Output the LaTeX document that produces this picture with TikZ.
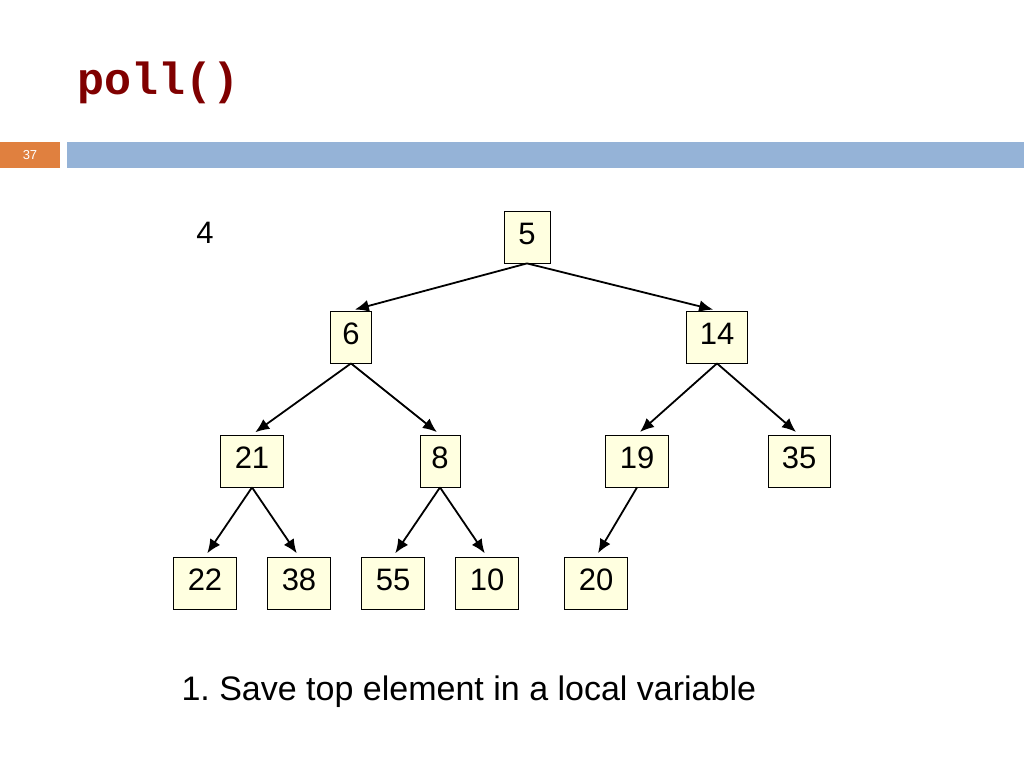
\documentclass[tikz,border=0pt]{standalone}
\usepackage{fontspec}
\setmainfont{Liberation Sans}
\newfontfamily\codefont{Liberation Mono}
\usetikzlibrary{arrows.meta}
\definecolor{barblue}{HTML}{95B3D7}
\definecolor{barorange}{HTML}{E0803F}
\definecolor{boxfill}{HTML}{FFFFE0}
\begin{document}
\begin{tikzpicture}[x=1pt,y=-1pt,
  hn/.style={draw=black,line width=0.8pt,fill=boxfill,minimum height=52pt,text height=31pt,text depth=17pt,inner sep=0pt,font=\fontsize{31}{32}\selectfont},
  ed/.style={line width=1.8pt,-{Latex[length=14pt,width=12pt]},shorten >=4pt}]
\useasboundingbox (0,0) rectangle (1024,768);
\node[anchor=west,text=red!50!black,font=\codefont\bfseries\fontsize{45}{46}\selectfont] (title) at (74,83) {poll()};
\fill[barorange] (0,142) rectangle (60,168);
\node[text=white,font=\fontsize{13}{14}\selectfont] (pg) at (30,155) {37};
\fill[barblue] (67,142) rectangle (1024,168);
\node[font=\fontsize{31}{32}\selectfont] (v) at (205,233) {4};
\node[hn,minimum width=46pt] (n5) at (527,237) {5};
\node[hn,minimum width=41pt] (n6) at (351,337) {6};
\node[hn,minimum width=61pt] (n14) at (717,337) {14};
\node[hn,minimum width=63pt] (n21) at (252,461) {21};
\node[hn,minimum width=40pt] (n8) at (440,461) {8};
\node[hn,minimum width=63pt] (n19) at (637,461) {19};
\node[hn,minimum width=62pt] (n35) at (799,461) {35};
\node[hn,minimum width=63pt] (n22) at (205,583) {22};
\node[hn,minimum width=63pt] (n38) at (299,583) {38};
\node[hn,minimum width=63pt] (n55) at (393,583) {55};
\node[hn,minimum width=63pt] (n10) at (487,583) {10};
\node[hn,minimum width=63pt] (n20) at (596,583) {20};
\foreach \a/\b in {n5/n6,n5/n14,n6/n21,n6/n8,n14/n19,n14/n35,n21/n22,n21/n38,n8/n55,n8/n10,n19/n20}
  \draw[ed] (\a.south) -- (\b.north);
\node[anchor=west,font=\fontsize{34}{35}\selectfont] (cap) at (178,692) {1.~Save top element in a local variable};
\end{tikzpicture}
\end{document}
